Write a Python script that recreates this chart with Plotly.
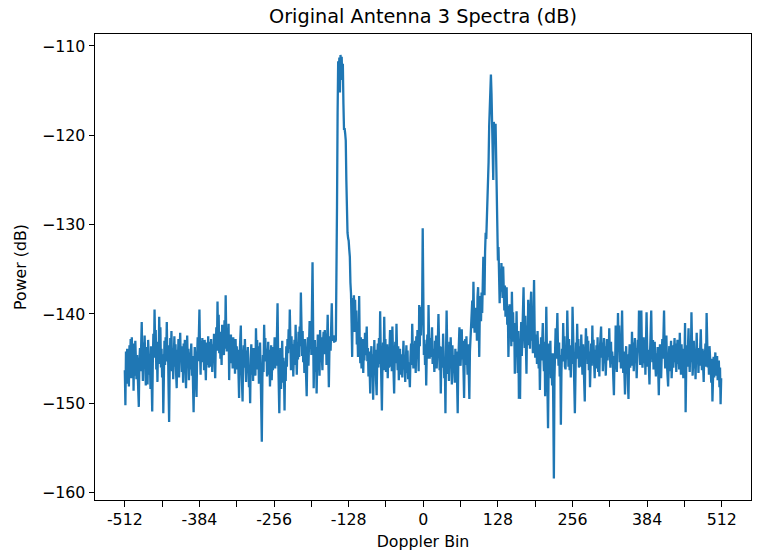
import plotly.graph_objects as go

# Doppler bin indices (categories along the x axis)
doppler_bins = list(range(-512, 512))

# Power (dB), one value per Doppler bin, -512 .. 511
power_db = [
    # -512 .. -449
    -146.3, -150.2, -144.2, -147.8, -143.9, -146.5, -144.8, -148.1, -143.5, -145.9, -142.8, -147.2, -142.6, -145.4, -143.3, -148.6,
    -144.1, -146.9, -143.0, -145.7, -147.3, -144.6, -146.1, -148.9, -150.4, -145.2, -143.8, -146.4, -142.1, -140.9, -144.7, -147.5,
    -143.2, -145.8, -142.4, -146.6, -148.0, -143.7, -145.1, -147.9, -142.9, -144.3, -146.8, -145.0, -148.4, -143.6, -147.0, -150.9,
    -145.5, -142.2, -144.9, -139.5, -143.4, -141.8, -146.2, -144.0, -147.6, -143.1, -145.6, -140.3, -144.4, -141.5, -146.0, -143.9,
    # -448 .. -385
    -147.1, -144.5, -151.1, -146.3, -143.0, -145.7, -142.6, -144.8, -140.9, -145.3, -143.5, -148.2, -152.1, -146.0, -142.7, -144.9,
    -141.9, -146.4, -143.8, -147.3, -144.2, -142.5, -145.9, -143.4, -146.7, -148.3, -144.0, -145.6, -142.8, -147.1, -144.4, -142.1,
    -145.2, -143.6, -146.5, -144.1, -147.7, -143.3, -145.0, -142.9, -146.1, -148.3, -144.6, -142.4, -145.8, -143.9, -147.4, -144.3,
    -146.2, -145.1, -143.3, -146.9, -144.7, -148.0, -151.0, -146.4, -143.7, -145.5, -147.2, -149.3, -144.9, -142.6, -145.3, -143.0,
    # -384 .. -321
    -139.5, -144.2, -146.8, -143.0, -145.4, -142.7, -144.9, -143.5, -146.3, -142.9, -145.1, -147.4, -144.0, -143.2, -145.7, -142.5,
    -146.0, -144.3, -143.1, -145.9, -142.8, -144.6, -146.5, -143.4, -145.2, -142.2, -144.8, -147.2, -143.6, -141.5, -144.1, -138.6,
    -142.9, -140.1, -144.4, -142.0, -145.0, -143.3, -145.7, -141.2, -143.8, -142.5, -144.6, -140.7, -143.9, -137.9, -142.4, -144.2,
    -141.6, -143.7, -141.1, -147.4, -143.0, -145.5, -142.3, -144.7, -143.4, -146.1, -142.6, -144.9, -143.1, -146.7, -142.8, -145.3,
    # -320 .. -257
    -143.6, -146.2, -144.0, -147.3, -149.4, -144.5, -142.7, -141.3, -145.8, -147.1, -149.8, -144.9, -143.5, -146.0, -142.8, -145.4,
    -147.6, -144.1, -146.3, -143.7, -145.9, -148.2, -146.6, -150.0, -145.0, -143.4, -146.8, -144.2, -147.5, -143.8, -145.6, -144.3,
    -146.9, -141.6, -144.7, -142.9, -146.2, -143.6, -147.8, -145.1, -143.2, -146.4, -149.0, -154.3, -147.2, -144.6, -146.5, -141.2,
    -144.4, -142.7, -145.3, -143.9, -147.0, -145.5, -143.1, -146.8, -144.0, -148.1, -145.2, -143.5, -147.4, -144.8, -146.3, -143.7,
    # -256 .. -193
    -145.0, -142.6, -146.1, -143.3, -145.8, -142.1, -138.8, -144.5, -147.9, -151.1, -146.2, -143.8, -148.4, -145.6, -143.0, -147.7,
    -144.9, -146.6, -150.8, -145.3, -147.5, -143.6, -145.9, -142.8, -144.4, -141.7, -143.9, -139.5, -144.1, -146.3, -142.5, -145.2,
    -143.4, -147.0, -144.6, -142.9, -145.7, -141.2, -144.3, -146.8, -143.5, -145.1, -142.0, -144.8, -141.4, -143.6, -137.6, -142.2,
    -144.7, -141.9, -145.4, -143.1, -146.6, -142.8, -145.0, -147.3, -149.2, -144.4, -142.6, -145.8, -143.2, -140.8, -143.9, -141.5,
    # -192 .. -129
    -144.6, -139.0, -134.2, -141.3, -148.3, -144.0, -142.9, -146.5, -143.7, -148.9, -145.2, -142.3, -145.8, -143.4, -146.9, -141.8,
    -144.3, -142.6, -144.9, -146.3, -143.1, -142.0, -144.5, -141.8, -143.6, -142.2, -145.7, -143.0, -140.1, -144.4, -148.2, -143.8,
    -142.5, -144.1, -141.3, -138.8, -142.7, -143.0, -142.4, -143.2, -142.8, -143.1, -142.9, -137.5, -128.0, -117.5, -111.7, -113.5,
    -111.3, -115.2, -111.0, -112.4, -111.2, -113.8, -112.0, -116.5, -119.4, -119.2, -119.8, -120.6, -125.0, -129.5, -130.9, -131.5,
    # -128 .. -65
    -131.8, -132.8, -133.6, -136.5, -137.7, -141.0, -144.8, -138.2, -140.6, -137.9, -142.0, -138.4, -141.2, -139.6, -143.4, -141.9,
    -144.8, -142.3, -138.0, -143.7, -145.5, -142.6, -146.1, -144.0, -142.8, -146.6, -143.5, -145.2, -142.1, -144.6, -143.0, -141.4,
    -145.3, -143.8, -147.0, -144.2, -146.4, -148.9, -145.1, -143.6, -146.7, -144.5, -149.6, -145.4, -142.9, -146.2, -144.0, -147.5,
    -149.1, -144.8, -143.3, -146.0, -142.7, -145.6, -139.7, -144.1, -146.9, -150.8, -145.7, -143.2, -146.3, -140.3, -144.4, -142.8,
    # -64 .. -1
    -146.5, -145.0, -143.4, -147.2, -144.6, -146.0, -143.7, -141.8, -145.9, -143.2, -146.4, -141.4, -144.3, -146.7, -148.9, -144.8,
    -143.1, -145.5, -141.1, -144.2, -146.3, -143.6, -147.4, -145.1, -143.9, -146.8, -146.0, -144.5, -147.1, -145.3, -143.0, -146.2,
    -144.7, -147.6, -145.0, -143.5, -146.6, -144.1, -147.3, -145.4, -146.9, -148.2, -144.9, -143.3, -145.7, -141.1, -144.0, -146.1,
    -143.4, -145.2, -143.0, -146.6, -142.5, -145.0, -141.8, -144.3, -146.4, -139.0, -143.6, -139.2, -142.4, -140.1, -139.5, -130.4,
    # 0 .. 63
    -141.8, -144.6, -142.9, -145.7, -143.4, -148.0, -144.1, -142.3, -145.0, -139.0, -143.5, -145.0, -142.7, -144.8, -143.2, -141.5,
    -145.6, -143.9, -144.5, -146.5, -143.0, -145.3, -142.4, -146.1, -144.0, -142.8, -140.0, -144.7, -146.3, -143.6, -148.9, -145.2,
    -143.7, -146.0, -142.2, -144.9, -147.2, -145.5, -151.1, -144.3, -139.6, -143.8, -146.7, -144.4, -147.5, -143.1, -145.8, -142.6,
    -144.9, -147.9, -143.5, -146.2, -144.6, -145.9, -147.7, -143.9, -146.6, -144.2, -148.3, -151.1, -145.4, -143.3, -141.5, -144.7,
    # 64 .. 127
    -145.8, -143.6, -141.7, -145.1, -143.0, -146.4, -149.4, -144.5, -142.8, -145.7, -142.5, -144.9, -146.8, -143.4, -145.9, -149.5,
    -144.2, -142.6, -142.9, -140.7, -138.5, -141.6, -136.4, -140.2, -142.1, -139.3, -141.5, -139.8, -143.0, -138.1, -137.0, -140.6,
    -144.8, -139.4, -138.0, -140.8, -137.6, -139.9, -136.2, -133.6, -135.4, -137.9, -133.0, -130.9, -131.6, -129.5, -128.0, -126.5,
    -123.0, -119.0, -116.5, -114.6, -113.2, -115.3, -117.8, -121.2, -125.0, -118.5, -119.2, -120.1, -118.7, -122.4, -126.5, -129.8,
    # 128 .. 191
    -134.0, -132.5, -134.7, -138.8, -136.0, -137.5, -134.3, -136.9, -138.2, -134.7, -137.4, -139.6, -136.8, -140.3, -138.5, -137.0,
    -141.2, -139.1, -144.8, -140.5, -138.9, -142.3, -140.0, -143.6, -137.5, -141.4, -139.8, -143.1, -141.0, -146.7, -142.5, -144.0,
    -139.7, -143.3, -146.6, -141.9, -149.5, -144.2, -149.5, -143.0, -140.9, -144.7, -142.1, -139.5, -137.0, -141.6, -143.8, -140.2,
    -142.7, -146.7, -141.3, -143.5, -138.4, -142.0, -140.6, -143.9, -139.1, -137.5, -143.0, -140.8, -144.4, -139.3, -136.2, -141.7,
    # 192 .. 255
    -144.9, -142.3, -143.0, -145.6, -141.9, -144.3, -146.1, -143.4, -148.5, -144.8, -142.6, -145.2, -143.5, -141.0, -144.7, -146.4,
    -143.1, -149.2, -144.5, -139.2, -143.8, -146.9, -152.8, -146.0, -143.3, -145.7, -143.0, -147.2, -145.4, -148.0, -144.4, -150.6,
    -158.4, -147.3, -144.1, -141.6, -145.0, -142.7, -139.9, -143.6, -145.8, -143.2, -147.0, -144.6, -152.4, -146.5, -143.9, -145.3,
    -141.0, -144.2, -142.5, -145.9, -146.2, -143.7, -145.1, -139.6, -143.3, -145.9, -142.8, -146.3, -144.0, -147.1, -143.5, -145.6,
    # 256 .. 319
    -139.2, -143.8, -146.5, -148.0, -151.1, -145.7, -143.2, -145.0, -141.1, -144.4, -142.8, -146.0, -145.5, -143.6, -145.9, -142.3,
    -144.7, -146.8, -143.4, -145.3, -147.5, -149.8, -144.1, -141.6, -143.9, -142.5, -145.6, -143.0, -146.3, -144.2, -148.2, -145.0,
    -143.3, -145.8, -141.3, -144.6, -142.9, -145.4, -147.2, -144.0, -146.1, -143.5, -145.7, -142.6, -146.5, -144.3, -147.0, -143.8,
    -142.4, -141.4, -144.9, -143.2, -146.4, -144.5, -142.7, -145.5, -143.6, -146.9, -144.1, -142.8, -145.2, -143.4, -144.8, -141.6,
    # 320 .. 383
    -144.3, -146.0, -143.1, -145.6, -144.2, -145.1, -147.3, -149.1, -144.7, -146.2, -141.3, -144.0, -146.5, -143.3, -139.9, -143.7,
    -141.3, -145.4, -143.0, -146.1, -142.5, -139.6, -143.9, -146.6, -144.2, -147.4, -149.0, -145.3, -143.6, -146.7, -144.5, -147.8,
    -149.5, -145.0, -143.4, -146.0, -144.1, -145.8, -142.0, -144.9, -143.2, -146.4, -144.0, -142.7, -145.3, -143.8, -147.2, -144.6,
    -142.9, -144.3, -139.6, -143.5, -145.7, -142.1, -139.6, -143.9, -146.0, -144.4, -142.6, -145.5, -143.0, -146.8, -144.2, -139.8,
    # 384 .. 447
    -143.5, -145.9, -144.0, -146.6, -147.9, -144.3, -142.2, -139.6, -143.8, -145.4, -142.9, -146.2, -144.7, -143.1, -145.5, -147.0,
    -144.4, -146.3, -143.7, -145.8, -149.1, -145.6, -143.4, -145.1, -147.2, -144.6, -142.8, -145.0, -143.3, -139.6, -143.9, -146.1,
    -144.2, -142.4, -145.7, -146.8, -148.1, -145.2, -143.6, -146.4, -144.8, -143.0, -147.2, -145.3, -143.5, -146.0, -144.1, -142.7,
    -145.4, -143.3, -146.5, -144.4, -142.9, -145.6, -143.8, -146.2, -142.1, -144.7, -146.8, -143.4, -145.1, -144.0, -147.2, -143.9,
    # 448 .. 511
    -145.3, -141.0, -151.0, -146.2, -143.5, -145.9, -143.1, -141.6, -144.8, -146.5, -143.7, -145.4, -139.8, -143.6, -146.9, -145.2,
    -143.0, -146.1, -144.4, -147.3, -144.9, -142.1, -145.5, -143.8, -146.6, -144.2, -145.8, -143.4, -141.7, -144.6, -146.3, -143.9,
    -145.7, -147.6, -144.1, -145.2, -143.3, -145.9, -139.9, -143.7, -146.0, -144.5, -146.8, -143.6, -144.5, -146.2, -147.7, -145.0,
    -149.8, -146.4, -144.8, -147.1, -145.3, -144.3, -146.9, -145.6, -144.7, -147.4, -145.8, -145.2, -148.2, -146.0, -150.1, -147.2,
]

# Axis ticks
x_tick_values = [-512, -448, -384, -320, -256, -192, -128, -64, 0, 64, 128, 192, 256, 320, 384, 448, 512]
x_tick_labels = ["-512", "", "-384", "", "-256", "", "-128", "", "0", "", "128", "", "256", "", "384", "", "512"]
y_tick_values = [-110, -120, -130, -140, -150, -160]
y_tick_labels = ["\u2212110", "\u2212120", "\u2212130", "\u2212140", "\u2212150", "\u2212160"]

title_text = "Original Antenna 3 Spectra (dB)"
x_title = "Doppler Bin"
y_title = "Power (dB)"

FONT = "DejaVu Sans"
TICK_SIZE = 15.8
LABEL_SIZE = 15.8
TITLE_SIZE = 19.3

fig = go.Figure()
fig.add_trace(go.Scatter(
    x=doppler_bins, y=power_db, mode="lines",
    line=dict(color="#1f77b4", width=2.3),
    showlegend=False, hoverinfo="skip",
))

axis_common = dict(
    showline=True, mirror=True, linecolor="black", linewidth=1.2,
    ticks="outside", ticklen=5.4, tickwidth=1.2, tickcolor="black",
    showgrid=False, zeroline=False,
    tickfont=dict(family=FONT, size=TICK_SIZE, color="black"),
)

fig.update_layout(
    width=757, height=555,
    margin=dict(l=95, r=6, t=34, b=55, autoexpand=False),
    paper_bgcolor="white", plot_bgcolor="white",
    font=dict(family=FONT, color="black"),
    title=dict(text=title_text, x=(95 + 751) / 2 / 757, xanchor="center",
               y=1 - 16 / 555, yanchor="middle", yref="container",
               font=dict(family=FONT, size=TITLE_SIZE, color="black")),
    xaxis=dict(
        range=[-563.15, 562.15],
        tickmode="array", tickvals=x_tick_values, ticktext=x_tick_labels,
        title=dict(text=x_title, font=dict(family=FONT, size=LABEL_SIZE, color="black"), standoff=7),
        **axis_common,
    ),
    yaxis=dict(
        range=[-160.82, -108.66],
        tickmode="array", tickvals=y_tick_values, ticktext=y_tick_labels,
        title=dict(text=y_title, font=dict(family=FONT, size=LABEL_SIZE, color="black"), standoff=11),
        **axis_common,
    ),
)

fig.write_html("out.html", config={"displayModeBar": False},
               post_script="document.body.style.margin='0px';document.body.style.padding='0px';")
